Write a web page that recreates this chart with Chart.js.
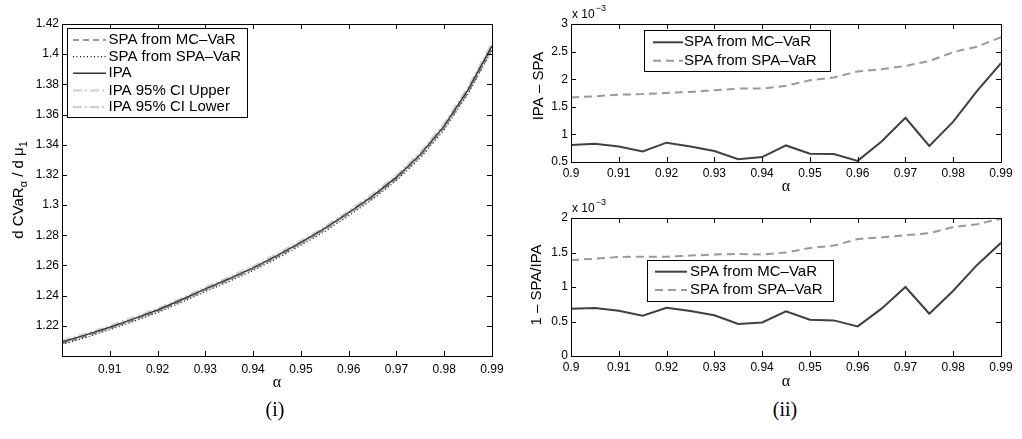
<!DOCTYPE html>
<html>
<head>
<meta charset="utf-8">
<script src="https://cdn.jsdelivr.net/npm/chart.js@4.4.1/dist/chart.umd.min.js"></script>
<style>
    body { margin: 0; background: #fff; width: 1022px; height: 439px; position: relative; overflow: hidden; }
    .panel { position: absolute; }
    .caption { position: absolute; top: 398px; font-family: "Liberation Serif", "DejaVu Serif", serif; font-size: 20px; color: #000; transform: translateX(-50%); }
</style>
</head>
<body>
<div class="panel" style="left:0;top:0;width:510px;height:400px"><canvas id="chart-main"></canvas></div>
<div class="panel" style="left:512px;top:0;width:510px;height:200px"><canvas id="chart-diff"></canvas></div>
<div class="panel" style="left:512px;top:195px;width:510px;height:200px"><canvas id="chart-rel"></canvas></div>
<div class="caption" style="left:275px">(i)</div>
<div class="caption" style="left:785px">(ii)</div>

<script>
// alpha grid (shared by all panels)
const alpha = [0.900, 0.905, 0.910, 0.915, 0.920, 0.925, 0.930, 0.935, 0.940, 0.945,
               0.950, 0.955, 0.960, 0.965, 0.970, 0.975, 0.980, 0.985, 0.990];

// (i) d CVaR / d mu1
const spaMcVar  = [1.2084, 1.2132, 1.2183, 1.2239, 1.2296, 1.2365, 1.2438, 1.2506, 1.2578, 1.2657,
                   1.2746, 1.2839, 1.2945, 1.3051, 1.3172, 1.3327, 1.3513, 1.3747, 1.4032];
const spaSpaVar = [1.2075, 1.2123, 1.2174, 1.2229, 1.2287, 1.2355, 1.2427, 1.2494, 1.2566, 1.2646,
                   1.2733, 1.2825, 1.2929, 1.3038, 1.3163, 1.3312, 1.3500, 1.3739, 1.4027];
const ipa       = [1.2092, 1.2140, 1.2191, 1.2246, 1.2305, 1.2373, 1.2445, 1.2512, 1.2584, 1.2665,
                   1.2753, 1.2845, 1.2950, 1.3060, 1.3185, 1.3335, 1.3525, 1.3765, 1.4055];
const ipaCiUp   = [1.2101, 1.2149, 1.2200, 1.2256, 1.2315, 1.2383, 1.2455, 1.2523, 1.2595, 1.2676,
                   1.2764, 1.2857, 1.2962, 1.3073, 1.3199, 1.3350, 1.3541, 1.3782, 1.4073];
const ipaCiLow  = [1.2083, 1.2131, 1.2182, 1.2236, 1.2295, 1.2363, 1.2435, 1.2501, 1.2573, 1.2654,
                   1.2742, 1.2833, 1.2938, 1.3047, 1.3171, 1.3320, 1.3509, 1.3748, 1.4037];

// (ii) top: IPA - SPA, in units of 1e-3
const diffMcVar  = [0.81, 0.83, 0.78, 0.69, 0.85, 0.78, 0.70, 0.55, 0.59, 0.80,
                    0.65, 0.645, 0.52, 0.87, 1.30, 0.79, 1.23, 1.79, 2.29];
const diffSpaVar = [1.67, 1.69, 1.72, 1.73, 1.75, 1.77, 1.80, 1.83, 1.83, 1.88,
                    1.98, 2.03, 2.14, 2.18, 2.24, 2.33, 2.49, 2.59, 2.76];

// (ii) bottom: 1 - SPA/IPA, in units of 1e-3
const relMcVar  = [0.685, 0.695, 0.657, 0.584, 0.70, 0.652, 0.59, 0.463, 0.487, 0.646,
                   0.526, 0.516, 0.429, 0.686, 1.00, 0.613, 0.946, 1.32, 1.64];
const relSpaVar = [1.39, 1.41, 1.435, 1.44, 1.44, 1.455, 1.47, 1.48, 1.47, 1.50,
                   1.565, 1.60, 1.695, 1.72, 1.75, 1.78, 1.87, 1.91, 1.99];

// tick labels
const mainXTicks = ['0.91', '0.92', '0.93', '0.94', '0.95', '0.96', '0.97', '0.98', '0.99'];
const mainYTicks = ['1.22', '1.24', '1.26', '1.28', '1.3', '1.32', '1.34', '1.36', '1.38', '1.4', '1.42'];
const sideXTicks = ['0.9', '0.91', '0.92', '0.93', '0.94', '0.95', '0.96', '0.97', '0.98', '0.99'];
const diffYTicks = ['0.5', '1', '1.5', '2', '2.5', '3'];
const relYTicks  = ['0', '0.5', '1', '1.5', '2'];

const FONT = '"Liberation Sans", Arial, sans-serif';
const SERIF = '"Liberation Serif", "DejaVu Serif", serif';
const DARK = '#404040';
const GREY = '#999999';

// MATLAB-ish box, inward ticks, legend and extra labels
const matlabPlugin = {
    id: 'matlab',
    afterDraw(chart, args, o) {
        const ctx = chart.ctx;
        const a = chart.chartArea;
        const sx = chart.scales.x, sy = chart.scales.y;
        ctx.save();
        ctx.strokeStyle = '#000';
        ctx.lineWidth = 1;
        ctx.setLineDash([]);
        ctx.strokeRect(Math.round(a.left) + 0.5, Math.round(a.top) + 0.5,
                       Math.round(a.right - a.left), Math.round(a.bottom - a.top));
        ctx.beginPath();
        sx.ticks.forEach(t => {
            const x = Math.round(sx.getPixelForValue(t.value)) + 0.5;
            ctx.moveTo(x, a.bottom); ctx.lineTo(x, a.bottom - 5);
            ctx.moveTo(x, a.top); ctx.lineTo(x, a.top + 5);
        });
        sy.ticks.forEach(t => {
            const y = Math.round(sy.getPixelForValue(t.value)) + 0.5;
            ctx.moveTo(a.left, y); ctx.lineTo(a.left + 5, y);
            ctx.moveTo(a.right, y); ctx.lineTo(a.right - 5, y);
        });
        ctx.stroke();

        // legend
        const lg = o.legend;
        if (lg) {
            ctx.fillStyle = '#fff';
            ctx.fillRect(lg.box[0], lg.box[1], lg.box[2], lg.box[3]);
            ctx.strokeStyle = '#000';
            ctx.lineWidth = 1;
            ctx.strokeRect(lg.box[0] + 0.5, lg.box[1] + 0.5, lg.box[2], lg.box[3]);
            ctx.font = '15px ' + FONT;
            ctx.textBaseline = 'middle';
            ctx.textAlign = 'left';
            chart.data.datasets.forEach((ds, i) => {
                const y = lg.rows[i];
                ctx.strokeStyle = ds.borderColor;
                ctx.lineWidth = ds.borderWidth;
                ctx.setLineDash(ds.borderDash || []);
                ctx.beginPath();
                ctx.moveTo(lg.line[0], y);
                ctx.lineTo(lg.line[1], y);
                ctx.stroke();
                ctx.fillStyle = '#000';
                ctx.fillText(ds.label, lg.textX, y);
            });
            ctx.setLineDash([]);
        }

        // alpha label under the x axis
        ctx.fillStyle = '#000';
        ctx.font = '16px ' + SERIF;
        ctx.textAlign = 'center';
        ctx.textBaseline = 'middle';
        ctx.fillText('α', (a.left + a.right) / 2, a.bottom + o.alphaDy);

        // rotated y title built from pieces (text + subscripts)
        if (o.yTitle) {
            ctx.save();
            ctx.translate(o.yTitle.x, o.yTitle.y);
            ctx.rotate(-Math.PI / 2);
            const parts = o.yTitle.parts;
            let total = 0;
            parts.forEach(p => {
                ctx.font = (p.sub ? '11px ' : '15px ') + FONT;
                total += ctx.measureText(p.t).width;
            });
            let x = -total / 2;
            ctx.textAlign = 'left';
            parts.forEach(p => {
                ctx.font = (p.sub ? '11px ' : '15px ') + FONT;
                ctx.fillText(p.t, x, p.sub ? 5 : 0);
                x += ctx.measureText(p.t).width;
            });
            ctx.restore();
        }

        // exponent note above the y axis
        if (o.exponent) {
            ctx.textAlign = 'left';
            ctx.textBaseline = 'middle';
            ctx.font = '12px ' + FONT;
            const ex = a.left + 1, ey = a.top - 9;
            ctx.fillText('x 10', ex, ey);
            const w = ctx.measureText('x 10').width;
            ctx.font = '9px ' + FONT;
            ctx.fillText('−3', ex + w + 1, ey - 6);
        }
        ctx.restore();
    }
};

function tickScale(labels, min, max, fixedSize, padding) {
    const values = labels.map(parseFloat);
    return {
        type: 'linear',
        min: min,
        max: max,
        grid: { display: false, drawTicks: false, tickLength: 0 },
        border: { display: false },
        afterBuildTicks: scale => { scale.ticks = values.map(v => ({ value: v })); },
        afterFit: scale => {
            if (scale.isHorizontal()) scale.height = fixedSize; else scale.width = fixedSize;
        },
        ticks: {
            autoSkip: false,
            maxRotation: 0,
            padding: padding,
            color: '#000',
            font: { family: FONT, size: 12 },
            callback: (v, i) => labels[i]
        }
    };
}

function pts(ys) {
    return alpha.map((x, i) => ({ x: x, y: ys[i] }));
}

function line(label, ys, color, width, dash) {
    return {
        label: label,
        data: pts(ys),
        borderColor: color,
        borderWidth: width,
        borderDash: dash,
        pointRadius: 0,
        fill: false,
        tension: 0
    };
}

const baseOptions = {
    responsive: true,
    maintainAspectRatio: false,
    animation: false,
    events: [],
    plugins: { legend: { display: false }, tooltip: { enabled: false } }
};

// (i)
new Chart(document.getElementById('chart-main'), {
    type: 'line',
    data: {
        datasets: [
            line('SPA from MC–VaR', spaMcVar, '#777777', 1.5, [6, 4]),
            line('SPA from SPA–VaR', spaSpaVar, '#111111', 1.2, [1, 2.5]),
            line('IPA', ipa, '#333333', 1.5, []),
            line('IPA 95% CI Upper', ipaCiUp, '#d0d0d0', 2.2, [9, 3, 2, 3]),
            line('IPA 95% CI Lower', ipaCiLow, '#d0d0d0', 2.2, [9, 3, 2, 3])
        ]
    },
    options: {
        ...baseOptions,
        layout: { padding: { top: 24, right: 18, left: 0, bottom: 0 } },
        scales: {
            x: tickScale(mainXTicks, 0.9, 0.99, 44, 6),
            y: tickScale(mainYTicks, 1.2, 1.42, 62, 3)
        },
        plugins: {
            ...baseOptions.plugins,
            matlab: {
                legend: { box: [67, 28, 180, 89], rows: [40, 56.7, 73.3, 90.5, 107.2], line: [73, 106], textX: 108.5 },
                alphaDy: 27,
                yTitle: { x: 19, y: 190, parts: [{ t: 'd CVaR' }, { t: 'α', sub: true }, { t: ' / d μ' }, { t: '1', sub: true }] }
            }
        }
    },
    plugins: [matlabPlugin]
});

// (ii) top
new Chart(document.getElementById('chart-diff'), {
    type: 'line',
    data: {
        datasets: [
            line('SPA from MC–VaR', diffMcVar, DARK, 2, []),
            line('SPA from SPA–VaR', diffSpaVar, GREY, 2, [8, 5])
        ]
    },
    options: {
        ...baseOptions,
        layout: { padding: { top: 24, right: 21, left: 0, bottom: 0 } },
        scales: {
            x: tickScale(sideXTicks, 0.9, 0.99, 38, 4),
            y: tickScale(diffYTicks, 0.5, 3, 59, 3)
        },
        plugins: {
            ...baseOptions.plugins,
            matlab: {
                legend: { box: [132, 30, 186, 41], rows: [42.3, 60.7], line: [141, 171], textX: 172 },
                alphaDy: 25,
                exponent: true,
                yTitle: { x: 27, y: 86, parts: [{ t: 'IPA – SPA' }] }
            }
        }
    },
    plugins: [matlabPlugin]
});

// (ii) bottom
new Chart(document.getElementById('chart-rel'), {
    type: 'line',
    data: {
        datasets: [
            line('SPA from MC–VaR', relMcVar, DARK, 2, []),
            line('SPA from SPA–VaR', relSpaVar, GREY, 2, [8, 5])
        ]
    },
    options: {
        ...baseOptions,
        layout: { padding: { top: 23, right: 21, left: 0, bottom: 0 } },
        scales: {
            x: tickScale(sideXTicks, 0.9, 0.99, 39, 4),
            y: tickScale(relYTicks, 0, 2, 59, 3)
        },
        plugins: {
            ...baseOptions.plugins,
            matlab: {
                legend: { box: [135, 65, 186, 41], rows: [76.7, 95], line: [143, 175], textX: 178 },
                alphaDy: 26,
                exponent: true,
                yTitle: { x: 25, y: 90, parts: [{ t: '1 – SPA/IPA' }] }
            }
        }
    },
    plugins: [matlabPlugin]
});
</script>
</body>
</html>
